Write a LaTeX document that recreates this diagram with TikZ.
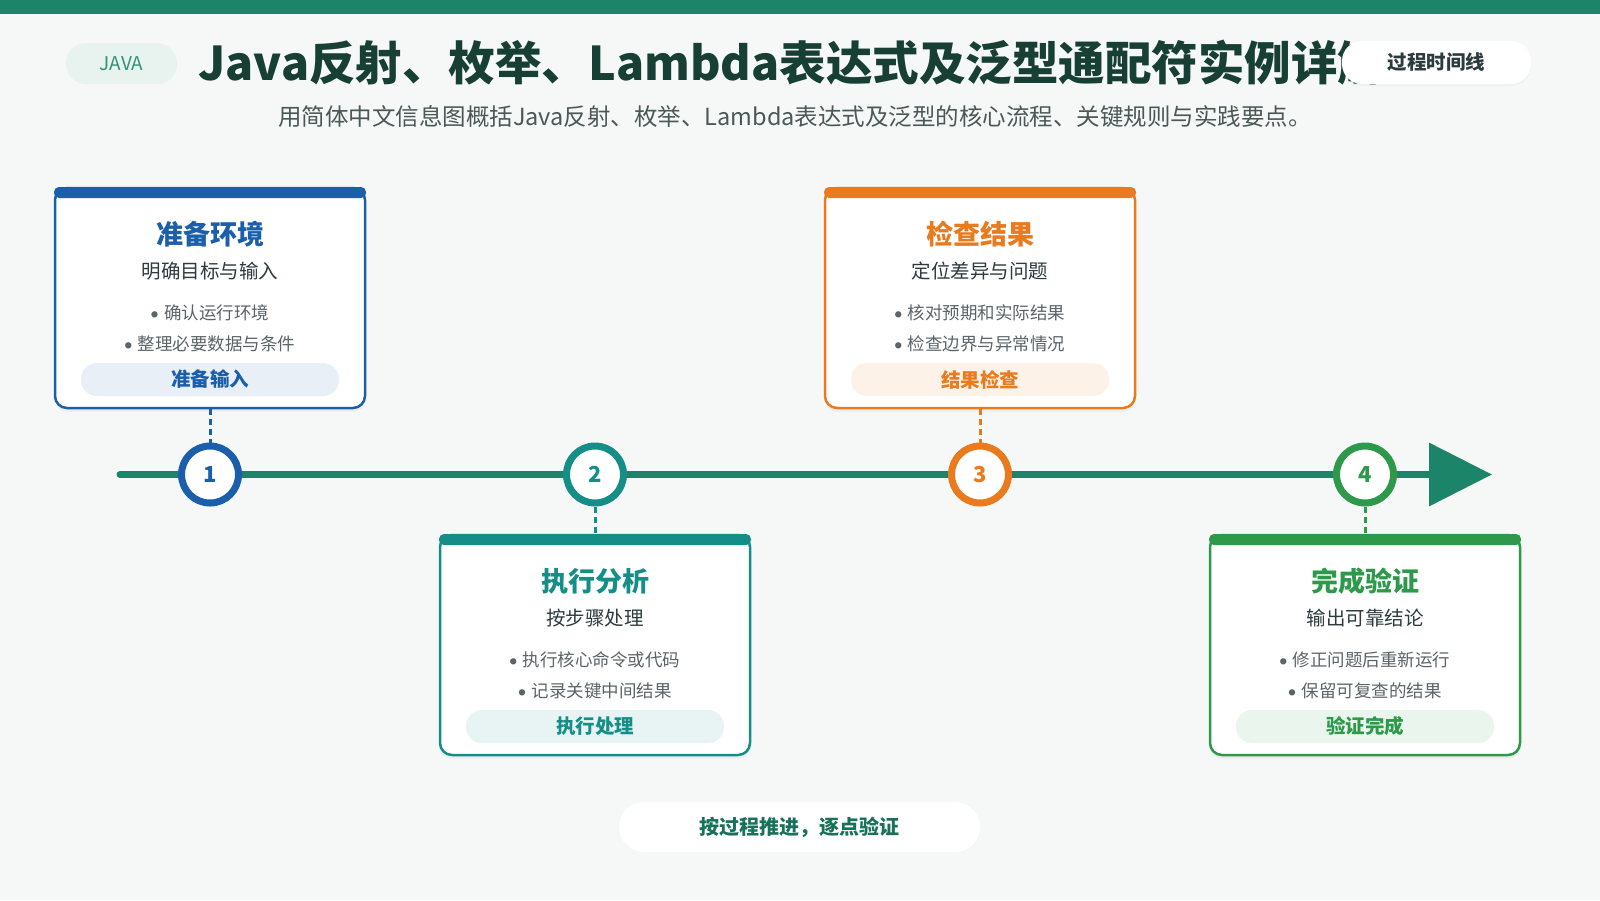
\documentclass[tikz,border=0pt]{standalone}
\usepackage{fontspec}
\setmainfont{Noto Sans CJK SC}
\usepackage{xcolor}
\usepackage{tikz}
\usetikzlibrary{arrows.meta,positioning,calc,shadows}
\definecolor{pagebg}{HTML}{F5F8F7}
\definecolor{brand}{HTML}{1C8569}
\definecolor{ink}{HTML}{173F33}
\definecolor{subink}{HTML}{4B5856}
\definecolor{bodyink}{HTML}{2D3B3E}
\definecolor{mute}{HTML}{5B6468}
\definecolor{prep}{HTML}{1B5FAA}
\definecolor{exec}{HTML}{168E88}
\definecolor{check}{HTML}{E97B1E}
\definecolor{done}{HTML}{2E994B}
\newcommand{\dotmark}{\raisebox{.25ex}{\fontsize{7}{7}\selectfont●}\hspace{6pt}}
% one timeline card: name, colour, centre x, top y, title, subtitle, two bullets, pill
\newcommand{\stepcard}[9]{%
  \node[card,draw=#2] (#1) at (#3,{#4+110}) {};
  \node[cardbar,fill=#2] (#1bar) at (#3,{#4+4.5}) {};
  \node[cardtitle,text=#2] (#1title) at (#3,{#4+46}) {#5};
  \node[cardsub] (#1sub) at (#3,{#4+83.5}) {#6};
  \node[cardbullet] (#1b1) at (#3,{#4+125}) {\dotmark #7};
  \node[cardbullet] (#1b2) at (#3,{#4+156}) {\dotmark #8};
  \node[cardpill,fill=#2!10,text=#2] (#1pill) at (#3,{#4+191.5}) {#9};
}

\begin{document}
\begin{tikzpicture}[
  x=1pt,y=-1pt,
  card/.style={rectangle,fill=white,rounded corners=12pt,line width=2.5pt,
    minimum width=310pt,minimum height=220pt,inner sep=0pt,
    drop shadow={opacity=.07,shadow xshift=0pt,shadow yshift=-4pt}},
  cardbar/.style={rectangle,rounded corners=5pt,minimum width=312pt,
    minimum height=11pt,inner sep=0pt},
  cardtitle/.style={font=\fontsize{27}{30}\selectfont\bfseries},
  cardsub/.style={text=bodyink,font=\fontsize{19.5}{22}\selectfont},
  cardbullet/.style={text=mute,font=\fontsize{17.5}{20}\selectfont},
  cardpill/.style={rectangle,rounded corners=16pt,minimum width=258pt,
    minimum height=33pt,inner sep=0pt,font=\fontsize{19.5}{22}\selectfont\bfseries},
  stepdot/.style={circle,fill=white,line width=7pt,minimum size=57pt,inner sep=0pt,
    font=\fontsize{22}{24}\selectfont\bfseries},
  link/.style={line width=3pt,dash pattern=on 6pt off 4pt},
  timeline/.style={draw=brand,line width=7pt,line cap=round,
    -{Triangle[length=63pt,width=62pt]}},
  tag/.style={rectangle,rounded corners=20pt,inner sep=0pt}
]
\useasboundingbox (0,0) rectangle (1600,900);
\fill[pagebg] (0,0) rectangle (1600,900);
\fill[brand] (0,0) rectangle (1600,14);

% header
\node[tag,fill=brand!10,text=brand!90,minimum width=111pt,minimum height=41pt,
  font=\fontsize{19}{21}\selectfont] (lang) at (121.5,63.5) {JAVA};
\node[anchor=west,text=ink,font=\fontsize{46.5}{52}\selectfont\bfseries] (title) at (195,62.5)
  {Java反射、枚举、Lambda表达式及泛型通配符实例详解};
\node[tag,fill=white,text=bodyink,minimum width=189pt,minimum height=43pt,
  font=\fontsize{19.5}{22}\selectfont\bfseries,
  drop shadow={opacity=.05,shadow xshift=0pt,shadow yshift=-2pt}] (badge) at (1436.5,62.5) {过程时间线};
\node[text=subink,font=\fontsize{23.5}{26}\selectfont] (lead) at (795,117)
  {用简体中文信息图概括Java反射、枚举、Lambda表达式及泛型的核心流程、关键规则与实践要点。};

% timeline
\coordinate (tlstart) at (120,474.5);
\coordinate (tlend) at (1492,474.5);
\draw[timeline] (tlstart) -- (tlend);

\stepcard{c1}{prep}{210}{188}{准备环境}{明确目标与输入}{确认运行环境}{整理必要数据与条件}{准备输入}
\stepcard{c2}{exec}{595}{535}{执行分析}{按步骤处理}{执行核心命令或代码}{记录关键中间结果}{执行处理}
\stepcard{c3}{check}{980}{188}{检查结果}{定位差异与问题}{核对预期和实际结果}{检查边界与异常情况}{结果检查}
\stepcard{c4}{done}{1365}{535}{完成验证}{输出可靠结论}{修正问题后重新运行}{保留可复查的结果}{验证完成}

\node[stepdot,draw=prep,text=prep] (s1) at (210,474.5) {1};
\node[stepdot,draw=exec,text=exec] (s2) at (595,474.5) {2};
\node[stepdot,draw=check,text=check] (s3) at (980,474.5) {3};
\node[stepdot,draw=done,text=done] (s4) at (1365,474.5) {4};

\draw[link,draw=prep] (c1.south) -- (s1.north);
\draw[link,draw=exec] (s2.south) -- (c2.north);
\draw[link,draw=check] (c3.south) -- (s3.north);
\draw[link,draw=done] (s4.south) -- (c4.north);

% footer
\node[tag,fill=white,text=brand!85!black,minimum width=361pt,minimum height=50pt,rounded corners=25pt,
  font=\fontsize{20}{22}\selectfont\bfseries] (motto) at (799.5,827) {按过程推进，逐点验证};
\end{tikzpicture}
\end{document}
